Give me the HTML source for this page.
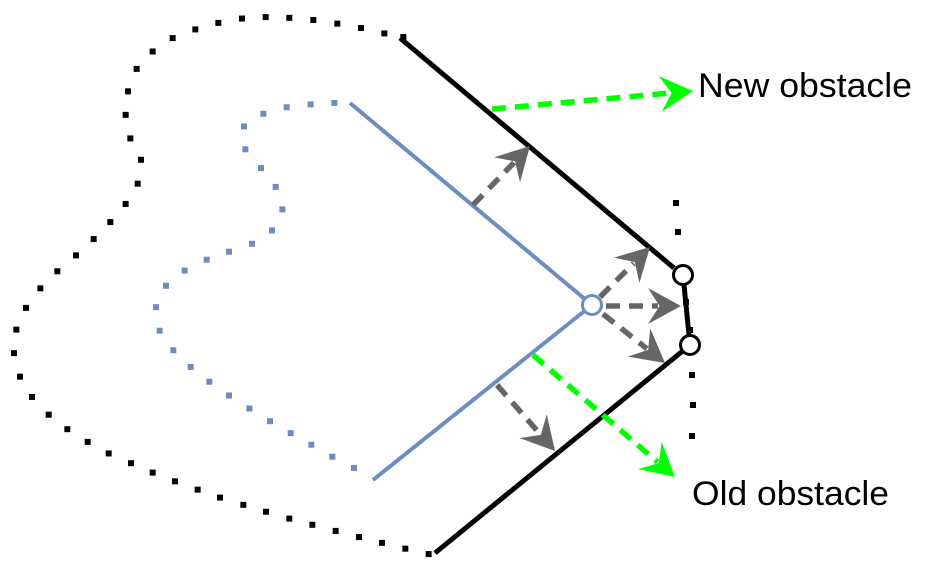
<!DOCTYPE html>
<html><head><meta charset="utf-8"><style>
html,body{margin:0;padding:0;background:#fff;width:934px;height:568px;overflow:hidden}
svg text{font-family:"Liberation Sans",sans-serif}
</style></head><body>
<svg id="s" width="934" height="568" viewBox="0 0 934 568" xmlns="http://www.w3.org/2000/svg">
<g id="dots"></g>
<line x1="400" y1="38" x2="674" y2="268" stroke="#000" stroke-width="5"/>
<line x1="683" y1="275" x2="690" y2="345" stroke="#000" stroke-width="5"/>
<line x1="690" y1="345" x2="435" y2="553" stroke="#000" stroke-width="5"/>
<line x1="350" y1="103" x2="592" y2="305" stroke="#6c8ebf" stroke-width="4"/>
<line x1="592" y1="305" x2="373" y2="480" stroke="#6c8ebf" stroke-width="4"/>
<g id="arrows"></g>
<circle cx="683" cy="275" r="9.5" fill="#fff" stroke="#000" stroke-width="3"/>
<circle cx="690" cy="345" r="9.5" fill="#fff" stroke="#000" stroke-width="3"/>
<circle cx="592" cy="305" r="9.5" fill="#fff" stroke="#6c8ebf" stroke-width="3"/>
<text x="698" y="97" font-size="34" textLength="214" lengthAdjust="spacingAndGlyphs" fill="#000">New obstacle</text>
<text x="692" y="505" font-size="34" textLength="197" lengthAdjust="spacingAndGlyphs" fill="#000">Old obstacle</text>
</svg>
<script>
const NS="http://www.w3.org/2000/svg";
const outerDots=[[1210,105],[1153,95],[1083,80],[1012,68],[940,58],[868,52],[797,50],[726,54],[655,66],[586,84],[518,108],[458,145],[410,193],[384,255],[377,320],[391,385],[423,444],[413,510],[377,566],[331,616],[281,663],[228,708],[172,752],[121,799],[78,853],[49,913],[42,978],[60,1043],[96,1099],[146,1148],[202,1188],[263,1223],[326,1255],[393,1282],[458,1308],[525,1332],[593,1355],[660,1377],[730,1397],[798,1416],[868,1435],[937,1452],[1007,1469],[1077,1486],[1146,1502],[1216,1518],[1286,1533]];
const innerDots=[[1003,287],[932,291],[860,299],[790,317],[732,352],[736,415],[783,467],[827,519],[847,581],[816,639],[756,676],[687,698],[620,720],[554,750],[498,792],[468,851],[479,916],[520,970],[572,1016],[628,1057],[687,1095],[748,1131],[810,1166],[872,1199],[934,1231],[997,1264],[1062,1295]];
const rightDots=[[676,203],[678,232],[686,302],[690,330],[692,375],[693,405],[692,436]];
const dg=document.getElementById('dots');
function dot(x,y,c,name){
  const r=document.createElementNS(NS,'rect');
  
  
  r.setAttribute('x',x-3);r.setAttribute('y',y-3);
  r.setAttribute('width',6);r.setAttribute('height',6);
  r.setAttribute('fill',c);dg.appendChild(r);
}
outerDots.forEach(p=>dot(p[0]/3,p[1]*0.3621-1,'#000','outer-boundary-dot'));
innerDots.forEach(p=>dot(p[0]/3,p[1]*0.3621-1,'#6c8ebf','inner-boundary-dot'));
rightDots.forEach(p=>dot(p[0],p[1],'#000','right-boundary-dot'));
const arrows=[
 [473,205,530,146,'#666','push-arrow-1'],
 [497,385,555,451,'#666','push-arrow-2'],
 [600,297,650,247,'#666','vertex-arrow-up'],
 [606,306,681,306,'#666','vertex-arrow-right'],
 [603,314,665,363,'#666','vertex-arrow-down'],
 [492,109,693,91,'#00ff00','new-obstacle-arrow'],
 [533,355,675,477,'#00ff00','old-obstacle-arrow']
];
const ag=document.getElementById('arrows');
arrows.forEach(a=>{
  const [x1,y1,x2,y2,c,name]=a;
  const dx=x2-x1,dy=y2-y1,L=Math.hypot(dx,dy),ux=dx/L,uy=dy/L,px=-uy,py=ux;
  const hl=33,hw=18;
  const g=document.createElementNS(NS,'g');
  
  
  const ln=document.createElementNS(NS,'line');
  ln.setAttribute('x1',x1);ln.setAttribute('y1',y1);
  ln.setAttribute('x2',x2-ux*hl*0.7);ln.setAttribute('y2',y2-uy*hl*0.7);
  ln.setAttribute('stroke',c);ln.setAttribute('stroke-width',5.5);
  ln.setAttribute('stroke-dasharray','14 9');
  g.appendChild(ln);
  const bx=x2-ux*hl,by=y2-uy*hl,nx=x2-ux*hl*0.65,ny=y2-uy*hl*0.65;
  const pg=document.createElementNS(NS,'polygon');
  pg.setAttribute('points',`${x2},${y2} ${bx+px*hw},${by+py*hw} ${nx},${ny} ${bx-px*hw},${by-py*hw}`);
  pg.setAttribute('fill',c);
  g.appendChild(pg);
  ag.appendChild(g);
});
</script>
</body></html>
